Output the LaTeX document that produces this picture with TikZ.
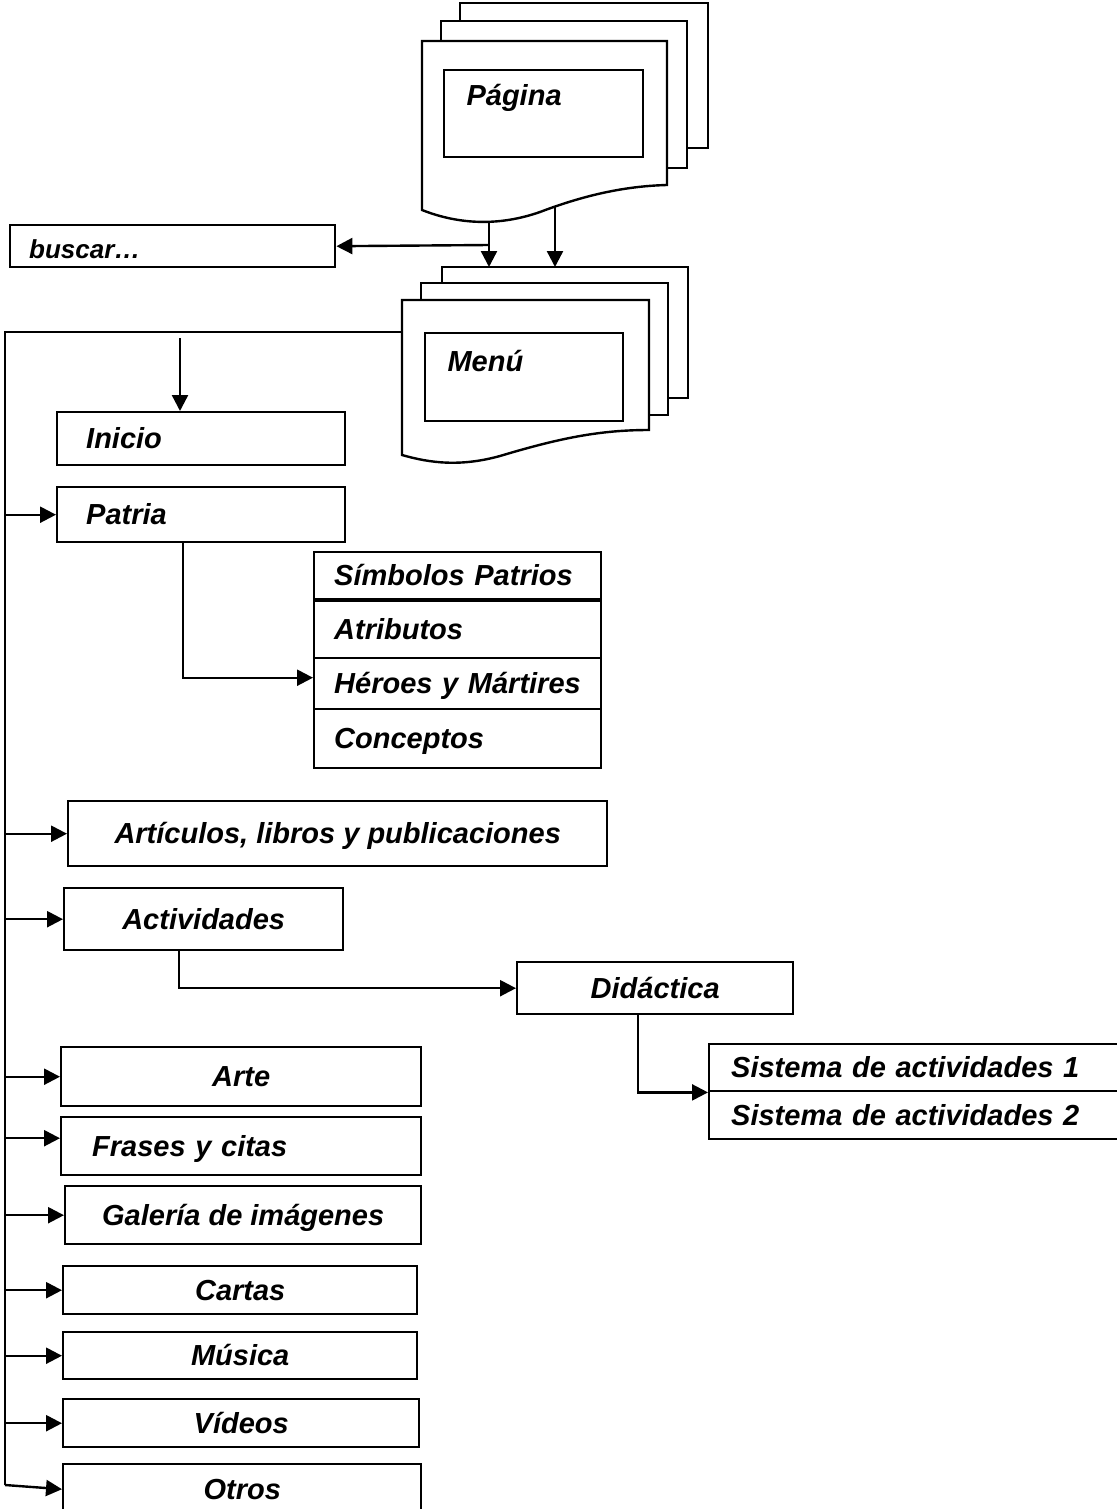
\documentclass[tikz,border=0pt]{standalone}
\usepackage{fontspec}
\setmainfont{Liberation Sans}
\usetikzlibrary{arrows.meta,positioning}
\newcommand\boxfont{\fontsize{29}{34}\selectfont\bfseries\itshape}
\tikzset{
  box/.style={draw,line width=2.4pt,anchor=north west,inner sep=0pt,text height=24pt,text depth=4pt,font=\boxfont},
  lbox/.style={box,align=left,inner xsep=#1},
  sheet/.style={draw,line width=2.4pt,fill=white},
  arr/.style={line width=2.4pt,-{Triangle[length=16pt,width=16pt]}},
  spine/.style={line width=2.4pt},
}
\begin{document}
\begin{tikzpicture}[x=1pt,y=-1pt]
\useasboundingbox (0,0) rectangle (1116,1509);
% Pagina stack
\draw[sheet] (460,3) rectangle (708,148);
\draw[sheet] (441,21) rectangle (687,168);
\draw[sheet] (422,210) -- (422,41) -- (667,41) -- (667,185) .. controls (630,186) and (590,193) .. (540,212) .. controls (500,226) and (460,225) .. (422,210) -- cycle;
\node[box,minimum width=199pt,minimum height=87pt] (pagina) at (443,69) {};
\node[anchor=west,font=\boxfont] (paglbl) at (463,98) {Página};
% Menu stack
\draw[sheet] (442,267) rectangle (688,398);
\draw[sheet] (421,283) rectangle (668,415);
\draw[sheet] (402,455) -- (402,300) -- (649,300) -- (649,430) .. controls (600,430) and (560,438) .. (500,456) .. controls (460,467) and (430,463) .. (402,455) -- cycle;
\node[box,minimum width=198pt,minimum height=88pt] (menu) at (424,332) {};
\node[anchor=west,font=\boxfont] (menulbl) at (444,361) {Menú};
% Pagina -> Menu, buscar
\coordinate (pag1) at (489,222);
\coordinate (pag2) at (555,207);
\coordinate (menutop) at (442,267);
\coordinate (split) at (489,245);
\node[lbox=19pt,text width=287pt,minimum height=42pt,text height=26pt,text depth=2pt,font=\fontsize{26}{30}\selectfont\bfseries\itshape] (buscar) at (9,224) {buscar…};
\draw[arr] (pag1) -- (pag1 |- menutop);
\draw[arr] (pag2) -- (pag2 |- menutop);
\draw[arr] (split) -- (buscar.east);
% spine
\coordinate (menuleft) at (402,332);
\coordinate (spinetop) at (5,332);
\coordinate (spinebot) at (5,1485);
\draw[spine] (menuleft) -- (spinetop) -- (spinebot);
% items
\node[lbox=29pt,text width=230pt,minimum height=53pt] (inicio) at (56,411) {Inicio};
\coordinate (iniciotop) at (180,338);
\draw[arr] (iniciotop) -- (iniciotop |- inicio.north);
\node[lbox=29pt,text width=230pt,minimum height=55pt] (patria) at (56,486) {Patria};
\draw[arr] (spinetop |- patria.west) -- (patria.west);
\node[lbox=20pt,text width=247pt,minimum height=47pt] (simbolos) at (313,551) {Símbolos Patrios};
\node[lbox=20pt,text width=247pt,minimum height=57pt] (atributos) at (313,600) {Atributos};
\node[lbox=20pt,text width=247pt,minimum height=51pt] (heroes) at (313,657) {Héroes y Mártires};
\node[lbox=20pt,text width=247pt,minimum height=59pt] (conceptos) at (313,708) {Conceptos};
\draw[arr] ([xshift=-18pt]patria.south) |- ([yshift=6pt]heroes.west);
\node[box,minimum width=539pt,minimum height=65pt] (articulos) at (67,800) {Artículos, libros y publicaciones};
\draw[arr] (spinetop |- articulos.west) -- (articulos.west);
\node[box,minimum width=279pt,minimum height=62pt] (actividades) at (63,887) {Actividades};
\draw[arr] (spinetop |- actividades.west) -- (actividades.west);
\node[box,minimum width=276pt,minimum height=52pt] (didactica) at (516,961) {Didáctica};
\draw[arr] ([xshift=-25pt]actividades.south) |- (didactica.west);
\node[lbox=22pt,text width=376pt,minimum height=47pt] (sistema1) at (708,1043) {Sistema de actividades 1};
\node[lbox=22pt,text width=376pt,minimum height=48pt] (sistema2) at (708,1090) {Sistema de actividades 2};
\draw[arr] ([xshift=-17pt]didactica.south) |- (sistema1.south west);
\node[box,minimum width=360pt,minimum height=59pt] (arte) at (60,1046) {Arte};
\draw[arr] (spinetop |- arte.west) -- (arte.west);
\node[lbox=31pt,text width=298pt,minimum height=58pt] (frases) at (60,1116) {Frases y citas};
\draw[arr] (spinetop |- frases.west) ++(0,-8) -- ([yshift=8pt]frases.west);
\node[box,minimum width=356pt,minimum height=58pt] (galeria) at (64,1185) {Galería de imágenes};
\draw[arr] (spinetop |- galeria.west) -- (galeria.west);
\node[box,minimum width=354pt,minimum height=48pt] (cartas) at (62,1265) {Cartas};
\draw[arr] (spinetop |- cartas.west) -- (cartas.west);
\node[box,minimum width=354pt,minimum height=47pt] (musica) at (62,1331) {Música};
\draw[arr] (spinetop |- musica.west) -- (musica.west);
\node[box,minimum width=356pt,minimum height=48pt] (videos) at (62,1398) {Vídeos};
\draw[arr] (spinetop |- videos.west) -- (videos.west);
\node[box,minimum width=358pt,minimum height=50pt] (otros) at (62,1463) {Otros};
\draw[arr] (spinebot) -- (otros.west);
\end{tikzpicture}
\end{document}
